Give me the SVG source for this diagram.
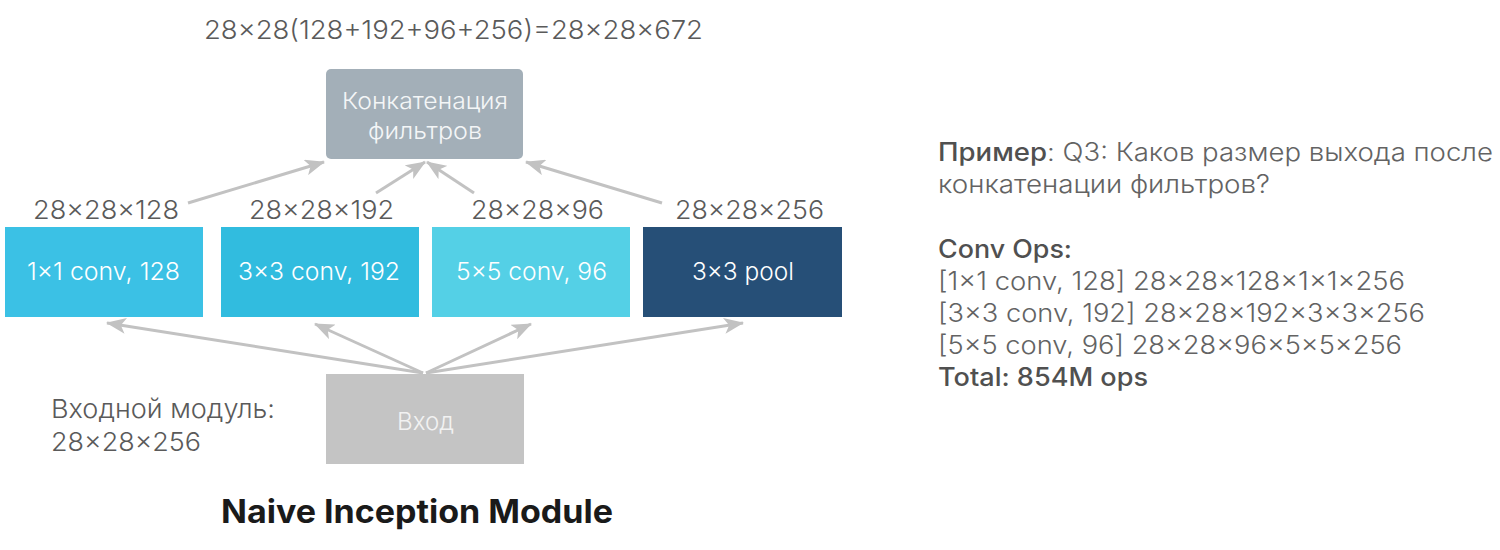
<svg xmlns="http://www.w3.org/2000/svg" width="1500" height="550" viewBox="0 0 1500 550">
<style>
text { font-family: Inter, "Noto Sans", "Liberation Sans", sans-serif; font-weight: 300; }
.lbl { font-size: 26px; fill: #5a5a5a; }
.box { font-size: 24px; fill: #ffffff; }
.note { font-size: 25px; fill: #636363; }
.strong { font-weight: 500; fill: #505050; }
.title { font-size: 32px; font-weight: 700; fill: #1a1a1a; }
.conn { stroke: #c2c2c2; stroke-width: 3; fill: none; marker-end: url(#ah); }
</style>
<defs>
<marker id="ah" viewBox="0 0 20 16" refX="19" refY="8" markerWidth="20" markerHeight="16" markerUnits="userSpaceOnUse" orient="auto">
<path d="M0,0 L20,8 L0,16 L5,8 z" fill="#c2c2c2"/>
</marker>
</defs>
<rect width="1500" height="550" fill="#ffffff"/>
<text class="lbl" x="204" y="39" textLength="499" lengthAdjust="spacingAndGlyphs">28×28(128+192+96+256)=28×28×672</text>
<g id="connectors">
<line class="conn" x1="423" y1="373" x2="107" y2="323"/>
<line class="conn" x1="423" y1="373" x2="315" y2="324"/>
<line class="conn" x1="426" y1="373" x2="531" y2="324"/>
<line class="conn" x1="426" y1="373" x2="743" y2="323"/>
<line class="conn" x1="188" y1="203" x2="324" y2="162"/>
<line class="conn" x1="376" y1="193" x2="425" y2="162"/>
<line class="conn" x1="474" y1="193" x2="427" y2="162"/>
<line class="conn" x1="662" y1="203" x2="526" y2="162"/>
</g>
<g id="concat">
<rect x="326" y="69" width="197" height="90" rx="5" fill="#a3afb8"/>
<text x="342" y="109" font-size="23" fill="#f4f6f7" textLength="166" lengthAdjust="spacingAndGlyphs">Конкатенация</text>
<text x="368" y="139" font-size="23" fill="#f4f6f7" textLength="114" lengthAdjust="spacingAndGlyphs">фильтров</text>
</g>
<g id="conv1">
<text class="lbl" x="33" y="219" textLength="146" lengthAdjust="spacingAndGlyphs">28×28×128</text>
<rect x="5" y="227" width="198" height="90" fill="#3bc1e5"/>
<text class="box" x="27" y="280" textLength="153" lengthAdjust="spacingAndGlyphs">1×1 conv, 128</text>
</g>
<g id="conv3">
<text class="lbl" x="249" y="219" textLength="145" lengthAdjust="spacingAndGlyphs">28×28×192</text>
<rect x="221" y="227" width="198" height="90" fill="#31bcdf"/>
<text class="box" x="238" y="280" textLength="162" lengthAdjust="spacingAndGlyphs">3×3 conv, 192</text>
</g>
<g id="conv5">
<text class="lbl" x="471" y="219" textLength="133" lengthAdjust="spacingAndGlyphs">28×28×96</text>
<rect x="432" y="227" width="198" height="90" fill="#54d0e6"/>
<text class="box" x="456" y="280" textLength="151" lengthAdjust="spacingAndGlyphs">5×5 conv, 96</text>
</g>
<g id="pool">
<text class="lbl" x="675" y="219" textLength="149" lengthAdjust="spacingAndGlyphs">28×28×256</text>
<rect x="643" y="227" width="199" height="90" fill="#264f77"/>
<text class="box" x="692" y="280" textLength="102" lengthAdjust="spacingAndGlyphs">3×3 pool</text>
</g>
<g id="input">
<rect x="326" y="374" width="198" height="90" fill="#c4c4c4"/>
<text x="397" y="430" font-size="24" fill="#f2f2f2" textLength="57" lengthAdjust="spacingAndGlyphs">Вход</text>
</g>
<g id="input-label">
<text class="lbl" x="51" y="418" font-size="25" textLength="224" lengthAdjust="spacingAndGlyphs">Входной модуль:</text>
<text class="lbl" x="51" y="451" font-size="25" textLength="150" lengthAdjust="spacingAndGlyphs">28×28×256</text>
</g>
<text class="title" x="221" y="523" textLength="392" lengthAdjust="spacingAndGlyphs">Naive Inception Module</text>
<g id="notes">
<text class="note" x="938" y="161" textLength="555" lengthAdjust="spacingAndGlyphs"><tspan class="strong">Пример</tspan>: Q3: Каков размер выхода после</text>
<text class="note" x="938" y="193" textLength="332" lengthAdjust="spacingAndGlyphs">конкатенации фильтров?</text>
<text class="note strong" x="938" y="258" textLength="134" lengthAdjust="spacingAndGlyphs">Conv Ops:</text>
<text class="note" x="938" y="290" textLength="467" lengthAdjust="spacingAndGlyphs">[1×1 conv, 128] 28×28×128×1×1×256</text>
<text class="note" x="938" y="322" textLength="487" lengthAdjust="spacingAndGlyphs">[3×3 conv, 192] 28×28×192×3×3×256</text>
<text class="note" x="938" y="354" textLength="464" lengthAdjust="spacingAndGlyphs">[5×5 conv, 96] 28×28×96×5×5×256</text>
<text class="note strong" x="938" y="386" textLength="210" lengthAdjust="spacingAndGlyphs">Total: 854M ops</text>
</g>
</svg>
